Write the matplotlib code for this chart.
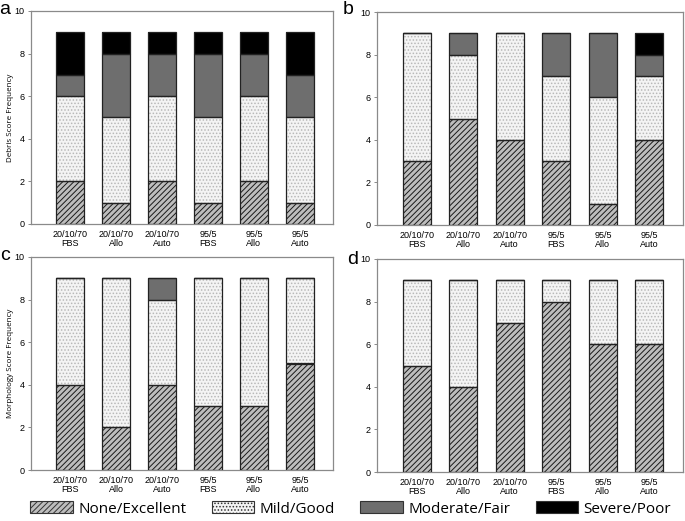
import numpy as np
import matplotlib.pyplot as plt
from matplotlib.patches import Patch

groups = ["20/10/70\nFBS", "20/10/70\nAllo", "20/10/70\nAuto", "95/5\nFBS", "95/5\nAllo", "95/5\nAuto"]
categories = ["None/Excellent", "Mild/Good", "Moderate/Fair", "Severe/Poor"]

# counts per category for each panel
a_none = [2, 1, 2, 1, 2, 1]
a_mild = [4, 4, 4, 4, 4, 4]
a_mod = [1, 3, 2, 3, 2, 2]
a_sev = [2, 1, 1, 1, 1, 2]

b_none = [3, 5, 4, 3, 1, 4]
b_mild = [6, 3, 5, 4, 5, 3]
b_mod = [0, 1, 0, 2, 3, 1]
b_sev = [0, 0, 0, 0, 0, 1]

c_none = [4, 2, 4, 3, 3, 5]
c_mild = [5, 7, 4, 6, 6, 4]
c_mod = [0, 0, 1, 0, 0, 0]
c_sev = [0, 0, 0, 0, 0, 0]

d_none = [5, 4, 7, 8, 6, 6]
d_mild = [4, 5, 2, 1, 3, 3]
d_mod = [0, 0, 0, 0, 0, 0]
d_sev = [0, 0, 0, 0, 0, 0]

panels = {
    "a": [a_none, a_mild, a_mod, a_sev],
    "b": [b_none, b_mild, b_mod, b_sev],
    "c": [c_none, c_mild, c_mod, c_sev],
    "d": [d_none, d_mild, d_mod, d_sev],
}
ylabels = {"a": "Debris Score Frequency", "b": "", "c": "Morphology Score Frequency", "d": ""}

# style per category: face, hatch, hatch colour
styles = [
    ("#bdbdbd", "//////", "#1a1a1a"),
    ("#f4f4f4", ".....", "#b8b8b8"),
    ("#6e6e6e", None, None),
    ("#000000", None, None),
]

plt.rcParams["hatch.linewidth"] = 0.7
plt.rcParams["font.family"] = ["Liberation Sans", "DejaVu Sans"]

fig = plt.figure(figsize=(6.85, 5.21), dpi=100)
W, H = 685.0, 521.0
boxes = {
    "a": (31, 11, 333, 224),
    "b": (377, 12, 683, 225),
    "c": (31, 257, 333, 470),
    "d": (377, 259, 683, 472),
}
letters = {"a": (5, 9), "b": (348, 10), "c": (5, 256), "d": (353, 259)}

x = np.arange(len(groups))
for key, series in panels.items():
    l, t, r, b = boxes[key]
    ax = fig.add_axes([l / W, 1 - b / H, (r - l) / W, (b - t) / H])
    bottom = np.zeros(len(groups))
    for vals, (face, hatch, hcol) in zip(series, styles):
        vals = np.array(vals, dtype=float)
        if hatch:
            ax.bar(x, vals, 0.6, bottom=bottom, color=face, hatch=hatch,
                   edgecolor=hcol, linewidth=0, zorder=2)
        else:
            ax.bar(x, vals, 0.6, bottom=bottom, color=face, linewidth=0, zorder=2)
        ax.bar(x, vals, 0.6, bottom=bottom, fill=False, edgecolor="#222222",
               linewidth=0.9, zorder=3)
        bottom += vals
    ax.set_xlim(-0.85, 5.72)
    ax.set_ylim(0, 10)
    ax.set_yticks([0, 2, 4, 6, 8, 10])
    ax.set_xticks(x)
    ax.set_xticklabels(groups, fontsize=6.5, linespacing=1.0)
    ax.tick_params(axis="x", length=0, pad=4)
    ax.tick_params(axis="y", labelsize=6.5, length=2.5, width=0.6, color="#777777", pad=2)
    for s in ax.spines.values():
        s.set_color("#8a8a8a")
        s.set_linewidth(0.9)
    if ylabels[key]:
        ax.set_ylabel(ylabels[key], fontsize=5.8, family=["Open Sans", "DejaVu Sans"])
        ax.yaxis.set_label_coords(-17 / (r - l), 0.5)
    lx, ly = letters[key]
    fig.text(lx / W, 1 - ly / H, key, fontsize=14, ha="center", va="center")

handles = []
for name, (face, hatch, hcol) in zip(categories, styles):
    handles.append(Patch(facecolor=face, hatch=hatch, edgecolor="#333333", linewidth=0.8, label=name))
fig.legend(handles=handles, loc="center", bbox_to_anchor=(0.512, 1 - 509 / H), ncol=4,
           frameon=False, prop={"family": ["Open Sans", "DejaVu Sans"], "size": 11},
           handlelength=2.8, handleheight=0.8, columnspacing=1.65, handletextpad=0.35,
           borderpad=0, borderaxespad=0)

fig.savefig("out.png", dpi=100)
